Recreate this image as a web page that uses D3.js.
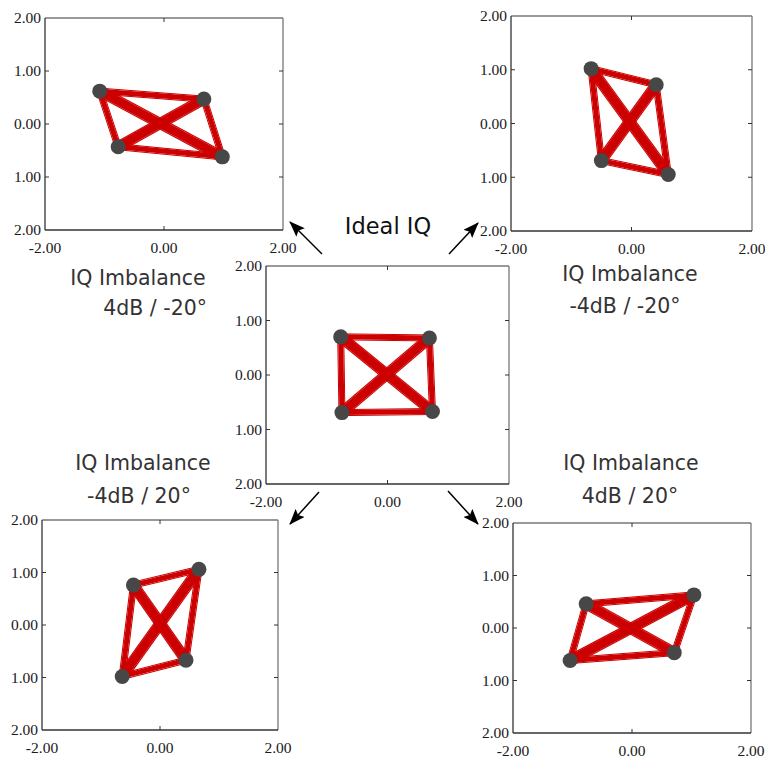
<!DOCTYPE html>
<html><head><meta charset="utf-8">
<script src="https://cdn.jsdelivr.net/npm/d3@7"></script>
<style>body{margin:0;background:#fff}svg{display:block}</style>
</head><body>
<script>
// ---- data ----
const panelNames = ["imb_4_m20", "imb_m4_m20", "ideal", "imb_m4_20", "imb_4_20"];
// constellation points (I, Q) per panel, order: A, B, C, D
const ptsI = {
  imb_4_m20:  [-1.08, 0.67, -0.77, 0.98],
  imb_m4_m20: [-0.67, 0.41, -0.50, 0.61],
  ideal:      [-0.77, 0.69, -0.75, 0.74],
  imb_m4_20:  [-0.45, 0.66, -0.64, 0.44],
  imb_4_20:   [-0.77, 1.04, -1.04, 0.71]
};
const ptsQ = {
  imb_4_m20:  [0.62, 0.47, -0.43, -0.62],
  imb_m4_m20: [1.02, 0.72, -0.69, -0.95],
  ideal:      [0.70, 0.68, -0.69, -0.67],
  imb_m4_20:  [0.76, 1.06, -0.98, -0.67],
  imb_4_20:   [0.46, 0.63, -0.62, -0.47]
};
// transitions between symbols (indices)
const edges = [[0,1],[1,3],[3,2],[2,0]];
const diagonals = [[0,3],[1,2]];
const yTickValues = [2, 1, 0, -1, -2];
const yTickLabels = ["2.00", "1.00", "0.00", "1.00", "2.00"];
const xTickValues = [-2, 0, 2];
const xTickLabels = ["-2.00", "0.00", "2.00"];
const titleLines = {
  imb_4_m20: ["IQ Imbalance", "4dB / -20°"],
  imb_m4_m20: ["IQ Imbalance", "-4dB / -20°"],
  ideal: ["Ideal IQ"],
  imb_m4_20: ["IQ Imbalance", "-4dB / 20°"],
  imb_4_20: ["IQ Imbalance", "4dB / 20°"]
};

// ---- layout (styling) ----
const frames = {
  imb_4_m20:  {x: 45,  y: 18,  w: 238, h: 212},
  imb_m4_m20: {x: 511, y: 16,  w: 241, h: 215},
  ideal:      {x: 266, y: 266, w: 243, h: 218},
  imb_m4_20:  {x: 42,  y: 520, w: 236, h: 210},
  imb_4_20:   {x: 513, y: 523, w: 238, h: 210}
};
const titlePos = {
  imb_4_m20: [{x: 138, y: 285, a: "middle"}, {x: 207, y: 315, a: "end"}],
  imb_m4_m20: [{x: 630, y: 281, a: "middle"}, {x: 625, y: 313, a: "middle"}],
  ideal: [{x: 388, y: 234, a: "middle"}],
  imb_m4_20: [{x: 143, y: 470, a: "middle"}, {x: 139, y: 503, a: "middle"}],
  imb_4_20: [{x: 631, y: 470, a: "middle"}, {x: 630, y: 503, a: "middle"}]
};
const arrows = [
  [322, 254, 290, 222],
  [449, 254, 478, 223],
  [319, 492, 290, 524],
  [448, 491, 478, 524]
];

const W = 765, H = 760;
const svg = d3.select("body").append("svg").attr("width", W).attr("height", H);

svg.append("defs").append("marker")
  .attr("id", "ah").attr("viewBox", "0 0 16 12").attr("refX", 15).attr("refY", 6)
  .attr("markerWidth", 16).attr("markerHeight", 12).attr("markerUnits", "userSpaceOnUse")
  .attr("orient", "auto")
  .append("path").attr("d", "M0,0 L16,6 L0,12 L3,6 Z").attr("fill", "#000");

const red = "#cc0000";

panelNames.forEach(name => {
  const f = frames[name];
  const x = d3.scaleLinear().domain([-2, 2]).range([f.x, f.x + f.w]);
  const y = d3.scaleLinear().domain([-2, 2]).range([f.y + f.h, f.y]);
  const g = svg.append("g");

  // frame
  g.append("line").attr("x1", f.x).attr("x2", f.x + f.w).attr("y1", f.y).attr("y2", f.y).attr("stroke", "#777").attr("stroke-width", 1.3);
  g.append("line").attr("x1", f.x + f.w).attr("x2", f.x + f.w).attr("y1", f.y).attr("y2", f.y + f.h).attr("stroke", "#777").attr("stroke-width", 1.3);
  g.append("line").attr("x1", f.x).attr("x2", f.x).attr("y1", f.y).attr("y2", f.y + f.h).attr("stroke", "#333").attr("stroke-width", 1.3);
  g.append("line").attr("x1", f.x).attr("x2", f.x + f.w).attr("y1", f.y + f.h).attr("y2", f.y + f.h).attr("stroke", "#333").attr("stroke-width", 1.3);

  // inner ticks
  yTickValues.filter(v => Math.abs(v) < 2).forEach(v => {
    g.append("line").attr("x1", f.x).attr("x2", f.x + 4).attr("y1", y(v)).attr("y2", y(v)).attr("stroke", "#333");
    g.append("line").attr("x1", f.x + f.w).attr("x2", f.x + f.w - 4).attr("y1", y(v)).attr("y2", y(v)).attr("stroke", "#333");
  });
  xTickValues.filter(v => Math.abs(v) < 2).forEach(v => {
    g.append("line").attr("x1", x(v)).attr("x2", x(v)).attr("y1", f.y).attr("y2", f.y + 4).attr("stroke", "#333");
    g.append("line").attr("x1", x(v)).attr("x2", x(v)).attr("y1", f.y + f.h).attr("y2", f.y + f.h - 4).attr("stroke", "#333");
  });

  // tick labels
  g.selectAll(".yl").data(yTickValues).enter().append("text")
    .attr("x", f.x - 4).attr("y", d => y(d)).attr("dy", "0.35em")
    .attr("text-anchor", "end").attr("font-family", "Liberation Serif, serif").attr("font-size", 15.5)
    .attr("fill", "#1a1a1a").text((d, i) => yTickLabels[i]);
  g.selectAll(".xl").data(xTickValues).enter().append("text")
    .attr("x", d => x(d)).attr("y", f.y + f.h + 23)
    .attr("text-anchor", "middle").attr("font-family", "Liberation Serif, serif").attr("font-size", 15.5)
    .attr("fill", "#1a1a1a").text((d, i) => xTickLabels[i]);

  const P = ptsI[name].map((v, i) => [x(v), y(ptsQ[name][i])]);

  // transition bundles
  const drawBundle = (a, b, wMain, wThin, off) => {
    const [x1, y1] = P[a], [x2, y2] = P[b];
    const dx = x2 - x1, dy = y2 - y1, L = Math.hypot(dx, dy);
    const nx = -dy / L, ny = dx / L;
    g.append("line").attr("x1", x1).attr("y1", y1).attr("x2", x2).attr("y2", y2)
      .attr("stroke", red).attr("stroke-width", wMain).attr("stroke-linecap", "round");
    [off, -off].forEach(o => {
      g.append("line").attr("x1", x1 + nx * o).attr("y1", y1 + ny * o).attr("x2", x2 + nx * o).attr("y2", y2 + ny * o)
        .attr("stroke", red).attr("stroke-width", wThin);
    });
  };
  edges.forEach(([a, b]) => drawBundle(a, b, 5, 1, 3));
  diagonals.forEach(([a, b]) => drawBundle(a, b, 9, 1.2, 5));

  // symbols
  g.selectAll(".pt").data(P).enter().append("circle")
    .attr("cx", d => d[0]).attr("cy", d => d[1]).attr("r", 7.5).attr("fill", "#474747");

  // titles
  titleLines[name].forEach((t, i) => {
    const p = titlePos[name][i];
    svg.append("text").attr("x", p.x).attr("y", p.y).attr("text-anchor", p.a)
      .attr("font-family", "DejaVu Sans, sans-serif")
      .attr("font-size", name === "ideal" ? 22.5 : 20.5)
      .attr("fill", name === "ideal" ? "#111" : "#333").text(t);
  });
});

arrows.forEach(a => {
  svg.append("line").attr("x1", a[0]).attr("y1", a[1]).attr("x2", a[2]).attr("y2", a[3])
    .attr("stroke", "#000").attr("stroke-width", 1.5).attr("marker-end", "url(#ah)");
});
</script>
</body></html>
